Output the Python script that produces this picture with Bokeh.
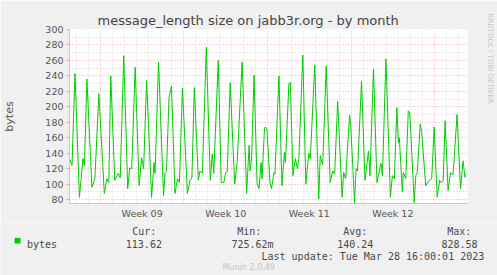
from bokeh.plotting import figure
from bokeh.layouts import column
from bokeh.models import FixedTicker, Grid, Title, Label, BoxAnnotation, Range1d
from bokeh.embed import file_html
from bokeh.resources import INLINE

# hours relative to Sunday 26 Feb 2023 00:00 (week 09 grid line)
hours = [-62, -57, -51, -42, -35, -32, -27, -17, -11, -3, 8, 13, 17, 21, 29, 36, 40, 47, 55, 59,
         63, 70, 78, 83, 87, 93, 103, 108, 110, 117, 127, 130, 133, 138, 143, 150, 155, 159, 165,
         175, 180, 184, 189, 197, 200, 205, 213, 221, 225, 228, 237, 243, 248, 252, 255, 261, 270,
         275, 285, 294, 299, 301, 304, 309, 315, 319, 323, 325, 330, 332, 335, 341, 344, 349, 351,
         359, 365, 370, 372, 379, 382, 387, 392, 396, 399, 407, 413, 419, 422, 431, 439, 442, 445,
         447, 454, 462, 467, 471, 477, 486, 489, 493, 501, 503, 511, 514, 517, 525, 532, 539, 542,
         549, 556, 564, 567, 574, 583, 587, 591, 596, 599, 601, 607, 609, 614, 619, 622, 631, 634,
         637, 643, 646, 654, 661, 666, 671, 677, 682, 685, 689, 693, 699, 704, 709, 717, 724, 729,
         733, 735]
values = [133, 124, 243, 83, 133, 124, 236, 96, 107, 217, 88, 107, 102, 240, 105, 114, 108, 266, 94, 121,
          120, 251, 98, 134, 120, 234, 83, 128, 114, 258, 85, 115, 117, 212, 227, 88, 107, 102, 224,
          88, 105, 108, 225, 105, 117, 114, 277, 105, 139, 114, 260, 102, 102, 115, 116, 231, 100,
          128, 258, 88, 150, 117, 133, 241, 102, 94, 128, 107, 172, 174, 170, 102, 94, 115, 113,
          240, 98, 141, 128, 230, 232, 111, 133, 120, 133, 267, 100, 140, 133, 254, 81, 137, 128,
          125, 253, 102, 117, 113, 207, 83, 115, 107, 189, 180, 76, 120, 117, 233, 105, 143, 111,
          249, 102, 127, 111, 262, 83, 111, 107, 199, 154, 160, 90, 115, 107, 195, 192, 76, 111,
          115, 178, 167, 98, 105, 107, 174, 83, 105, 102, 104, 182, 92, 115, 112, 190, 94, 130,
          109, 113]

y_ticks = list(range(80, 301, 20))
y_minor = list(range(90, 300, 20))
week_lines = [0, 168, 336, 504, 672]
day_lines = [h for h in range(-48, 721, 24) if h % 168 != 0]
week_label_pos = [84, 252, 420, 588]
week_labels = ["Week 09", "Week 10", "Week 11", "Week 12"]

title = "message_length size on jabb3r.org - by month"
series_name = "bytes"
stat_names = ["Cur:", "Min:", "Avg:", "Max:"]
stat_values = ["113.62", "725.62m", "140.24", "828.58"]
last_update = "Last update: Tue Mar 28 16:00:01 2023"
footer = "Munin 2.0.49"
side_text = "RRDTOOL / TOBI OETIKER"

W, H = 497, 275
H1 = 222           # height of the chart part
FL, FB = 67, 203   # frame left / bottom in canvas px
AXIS = "#c4c4ec"
TXT = "#4a4a4a"
BG = "#f0f0f0"

p = figure(width=W, height=H1, output_backend="svg", toolbar_location=None,
           x_range=Range1d(-62, 738), y_range=Range1d(75, 300),
           min_border_left=FL, min_border_right=30, min_border_top=29, min_border_bottom=H1 - FB)
p.background_fill_color = "white"
p.border_fill_color = BG
p.outline_line_color = None

# title
p.title.text = title
p.title.align = "left"
p.title.offset = 28
p.title.standoff = 4
p.title.text_font = "DejaVu Sans"
p.title.text_font_size = "13px"
p.title.text_font_style = "normal"
p.title.text_color = "#444444"

# x axis
p.xaxis.ticker = FixedTicker(ticks=week_label_pos)
p.xaxis.major_label_overrides = {k: v for k, v in zip(week_label_pos, week_labels)}
p.xaxis.major_tick_line_color = None
p.xaxis.minor_tick_line_color = None
p.xaxis.major_tick_out = 0
p.xaxis.major_tick_in = 0
p.xaxis.minor_tick_out = 0
p.xaxis.minor_tick_in = 0
p.xaxis.axis_line_color = AXIS
p.xaxis.major_label_standoff = 4
p.xaxis.major_label_text_font = "DejaVu Sans"
p.xaxis.major_label_text_font_size = "9.5px"
p.xaxis.major_label_text_color = "#555555"
p.xgrid.visible = False

# y axis
p.yaxis.ticker = FixedTicker(ticks=y_ticks, minor_ticks=y_minor)
p.yaxis.axis_line_color = AXIS
p.yaxis.major_tick_out = 3
p.yaxis.major_tick_in = 0
p.yaxis.minor_tick_out = 0
p.yaxis.minor_tick_in = 0
p.yaxis.major_tick_line_color = "#e8a8a8"
p.yaxis.minor_tick_line_color = None
p.yaxis.major_label_standoff = 3
p.yaxis.major_label_text_font = "DejaVu Sans"
p.yaxis.major_label_text_font_size = "9.5px"
p.yaxis.major_label_text_color = "#555555"
p.yaxis.axis_label = series_name
p.yaxis.axis_label_standoff = 26
p.yaxis.axis_label_text_font = "DejaVu Sans"
p.yaxis.axis_label_text_font_size = "11px"
p.yaxis.axis_label_text_font_style = "normal"
p.yaxis.axis_label_text_color = "#555555"
p.ygrid.grid_line_color = "#f0a8a8"
p.ygrid.grid_line_dash = "1 2"
p.ygrid.minor_grid_line_color = "#d4d4d4"
p.ygrid.minor_grid_line_dash = "1 2"

p.add_layout(Grid(dimension=0, ticker=FixedTicker(ticks=day_lines),
                  grid_line_color="#d4d4d4", grid_line_dash="1 2"))
p.add_layout(Grid(dimension=0, ticker=FixedTicker(ticks=week_lines),
                  grid_line_color="#f0a8a8", grid_line_dash="1 2"))

p.line(hours, values, line_color="#00cc00", line_width=1)

# right side credit text
spacer = Title(text="\u00a0", text_font_size="1px", standoff=12)
p.add_layout(spacer, "right")
credit = Title(text=side_text, align="left", offset=-16, vertical_align="top", standoff=2,
               text_font="DejaVu Sans", text_font_size="7px", text_font_style="normal",
               text_color="#c8c8c8")
p.add_layout(credit, "right")

# legend / footer strip: a second figure whose data units are canvas pixels
q = figure(width=W, height=H - H1, output_backend="svg", toolbar_location=None,
           x_range=Range1d(0, W), y_range=Range1d(H, H1),
           x_axis_location=None, y_axis_location=None, min_border=0)
q.background_fill_color = BG
q.border_fill_color = BG
q.outline_line_color = None
q.grid.visible = False

for fig in (p, q):
    try:
        fig.frame_align = False
    except Exception:
        pass


def lab(text, X, Y, size=10, color=TXT, font="DejaVu Sans Mono"):
    q.add_layout(Label(x=X, y=Y, text=text, text_font=font, text_font_size=f"{size}px",
                       text_color=color, text_align="left", text_baseline="alphabetic"))


name_x = [131.7, 236.7, 342.7, 446.7]
val_x = [125.3, 231.0, 336.7, 441.0]
for n, nx, v, vx in zip(stat_names, name_x, stat_values, val_x):
    lab(n, nx, 231)
    lab(v, vx, 243.5)
q.add_layout(BoxAnnotation(left=14, right=20, top=237.5, bottom=243, fill_color="#00cc00",
                           fill_alpha=1.0, line_color=None))
lab(series_name, 26.5, 243.5)
lab(last_update, 261, 255.5)
lab(footer, 222, 266.5, size=8, color="#c4c4c4", font="DejaVu Sans")

open("out.html", "w").write(file_html(column(p, q, spacing=0), INLINE))
